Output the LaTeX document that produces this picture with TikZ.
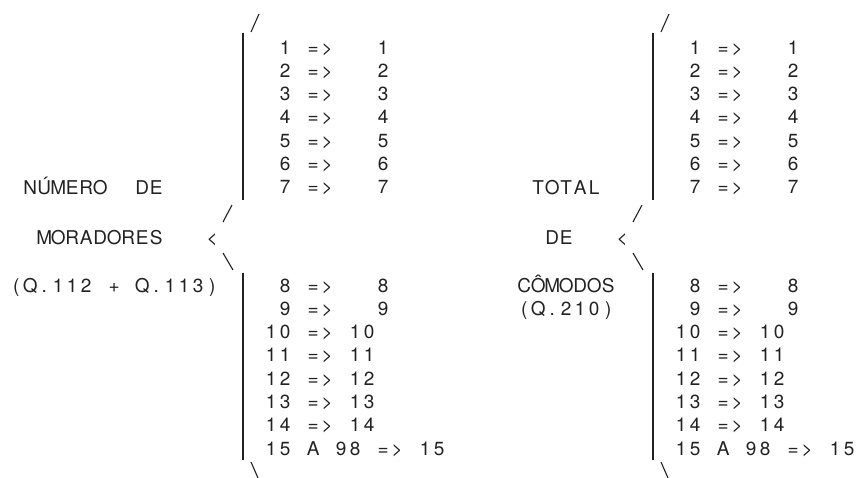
\documentclass[tikz,border=0pt]{standalone}
\usepackage{fontspec}
\setmainfont{TeX Gyre Heros}
\definecolor{ink}{HTML}{222222}
\newlength{\pitch}
\setlength{\pitch}{14pt}
% one character per cell, _ is an empty cell
\ExplSyntaxOn
\NewDocumentCommand{\mono}{m}
 {
  \tl_set:Nx \l_tmpa_tl {#1}
  \tl_map_inline:Nn \l_tmpa_tl
   {
    \str_if_eq:nnTF {##1} {_} {\hspace*{\pitch}} {\makebox[\pitch]{##1}}
   }
 }
\ExplSyntaxOff
\begin{document}
\begin{tikzpicture}[x=1pt,y=-1pt,
  txt/.style={anchor=base west,inner sep=0pt,font=\fontsize{19}{22}\selectfont,text=ink},
  brace/.style={draw=ink,line width=1.1pt}]
  \useasboundingbox (0,0) rectangle (860,477);
  % left labels
  \node[txt] (numero) at (23,194) {\mono{NÚMERO__DE}};
  \node[txt] (moradores) at (37,244) {\mono{MORADORES___<}};
  \node[txt] (qmor) at (9,292) {\mono{(Q.112_+_Q.113)}};
  % right labels
  \node[txt] (total) at (531,194) {\mono{TOTAL}};
  \node[txt] (de) at (545,244) {\mono{DE___<}};
  \node[txt] (comodos) at (517,292) {\mono{CÔMODOS}};
  \node[txt] (qcom) at (517,315.3) {\mono{(Q.210)}};
  % codes and brackets, left and right
  \foreach \s/\dx in {l/0,r/410} {
    \foreach \n in {1,...,9} {
      \pgfmathsetmacro{\yy}{\n<8 ? 54+23.33*(\n-1) : 292+23.33*(\n-8)}
      \node[txt] (\s\n) at (264+\dx,\yy) {\mono{_\n_=>___\n}};
    }
    \foreach \n in {10,...,14}
      \node[txt] (\s\n) at (264+\dx,{292+23.33*(\n-8)}) {\mono{\n_=>_\n}};
    \node[txt] (\s15) at (264+\dx,455.3) {\mono{15_A_98_=>_15}};
    \draw[brace] (251+\dx,32) -- (259+\dx,14);
    \draw[brace] (243+\dx,33) -- (243+\dx,200);
    \draw[brace] (223+\dx,222) -- (232+\dx,205);
    \draw[brace] (223+\dx,253) -- (233+\dx,270);
    \draw[brace] (243+\dx,273) -- (243+\dx,460);
    \draw[brace] (251+\dx,462) -- (258+\dx,478);
  }
\end{tikzpicture}
\end{document}
